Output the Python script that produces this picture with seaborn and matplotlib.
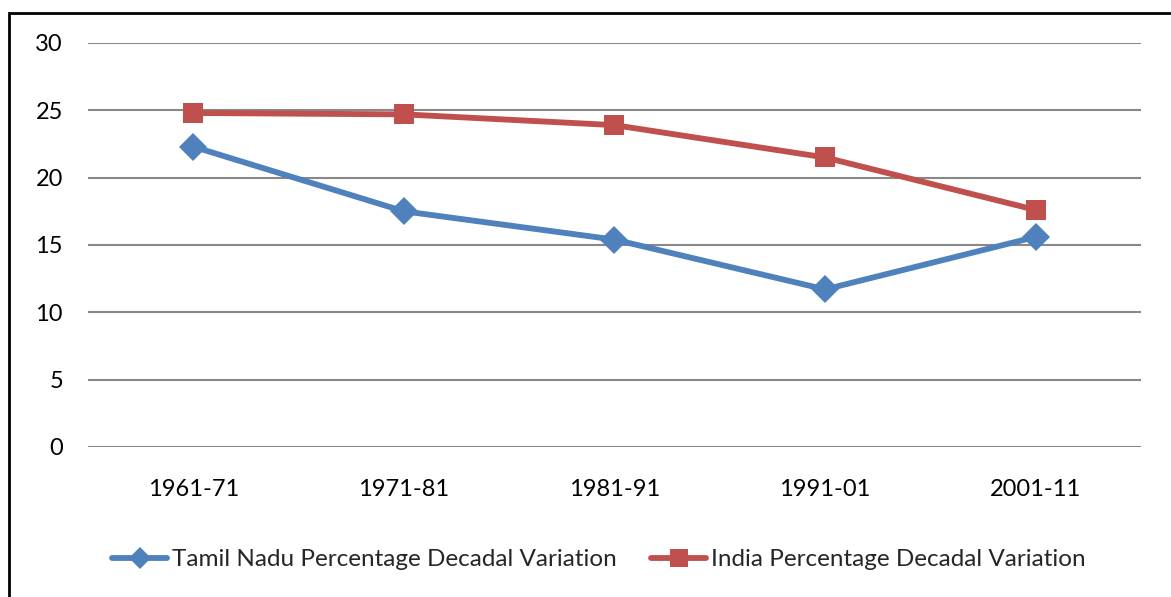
import pandas as pd
import matplotlib.pyplot as plt
import seaborn as sns
from matplotlib.patches import Rectangle
from matplotlib.lines import Line2D

# Du lieu
decades = ['1961-71', '1971-81', '1981-91', '1991-01', '2001-11']
tamil_nadu = [22.3, 17.5, 15.4, 11.7, 15.6]
india = [24.8, 24.7, 23.9, 21.5, 17.6]
ten_tn = 'Tamil Nadu Percentage Decadal Variation'
ten_in = 'India Percentage Decadal Variation'

df = pd.DataFrame({'Decade': decades * 2,
                   'Value': tamil_nadu + india,
                   'Series': [ten_tn] * 5 + [ten_in] * 5})

sns.set_style('white')
plt.rcParams['font.family'] = ['Lato', 'DejaVu Sans']

fig = plt.figure(figsize=(11.71, 5.97), dpi=100)
ax = fig.add_axes([0.0751, 0.2513, 0.8993, 0.6767])

sns.lineplot(data=df, x='Decade', y='Value', hue='Series', style='Series',
             palette=['#4F81BD', '#C0504D'], markers=['D', 's'], dashes=False,
             markersize=14, linewidth=4.2, markeredgewidth=0, sort=False,
             legend=False, ax=ax)

ax.set_ylim(0, 30)
ax.set_xlim(-0.5, 4.5)
ax.set_yticks([0, 5, 10, 15, 20, 25, 30])
ax.yaxis.grid(True, color='#888888', linewidth=1.5)
ax.set_axisbelow(True)
for s in ax.spines.values():
    s.set_visible(False)
ax.tick_params(axis='both', length=0, labelsize=17, labelcolor='black')
ax.tick_params(axis='y', pad=18)
ax.tick_params(axis='x', pad=23)
ax.set_xlabel('')
ax.set_ylabel('')

# chu giai
h = [Line2D([], [], color='#4F81BD', marker='D', markersize=11, linewidth=4.2, markeredgewidth=0),
     Line2D([], [], color='#C0504D', marker='s', markersize=13, linewidth=4.2, markeredgewidth=0)]
fig.legend(h, [ten_tn, ten_in], loc='center', bbox_to_anchor=(0.5115, 0.062), ncol=2,
           frameon=False, fontsize=17.5, handlelength=2.26, handletextpad=0.2, columnspacing=1.4)

# khung
fig.patches.append(Rectangle((0.0081, -0.2), 1.2, 1.178, transform=fig.transFigure,
                             fill=False, edgecolor='black', linewidth=2))

plt.savefig('out.png', dpi=100)
